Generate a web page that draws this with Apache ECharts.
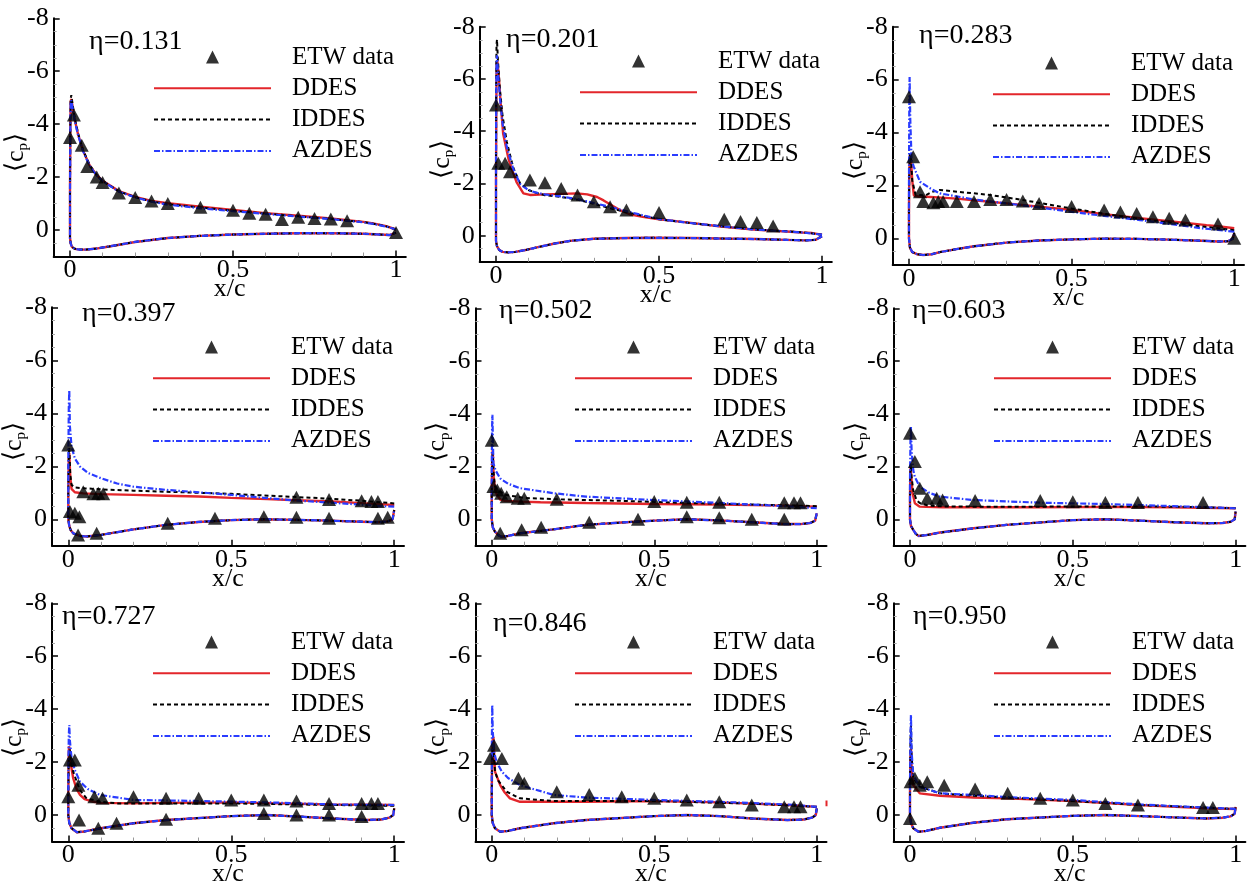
<!DOCTYPE html>
<html><head><meta charset="utf-8">
<script src="https://cdn.jsdelivr.net/npm/echarts@6/dist/echarts.min.js"></script>
<style>html,body{margin:0;padding:0;background:#fff}#c{width:1253px;height:881px}</style>
</head><body><div id="c"></div>
<script>
// ---------- tick labels / names ----------
const etaLabels = ['η=0.131','η=0.201','η=0.283','η=0.397','η=0.502','η=0.603','η=0.727','η=0.846','η=0.950'];
const seriesNames = ['ETW data','DDES','IDDES','AZDES'];
const xMajorTicks = [0, 0.5, 1];
const xMinorTicks = [0.1,0.2,0.3,0.4,0.6,0.7,0.8,0.9];
const yTickLabels = [-8,-6,-4,-2,0];

// ---------- panel 1 (eta 0.131) ----------
const p1_etw = [[0.0,-3.5],[0.012,-4.35],[0.036,-3.2],[0.053,-2.4],[0.082,-2.0],[0.1,-1.8],[0.15,-1.4],[0.2,-1.23],[0.25,-1.1],[0.3,-1.0],[0.4,-0.86],[0.5,-0.75],[0.55,-0.63],[0.6,-0.6],[0.65,-0.4],[0.7,-0.48],[0.75,-0.44],[0.8,-0.42],[0.85,-0.35],[1.0,0.09]];
const p1_ddesUp = [[1.0,-0.02],[0.97,-0.15],[0.93,-0.25],[0.9,-0.31],[0.8,-0.44],[0.7,-0.54],[0.6,-0.64],[0.5,-0.76],[0.4,-0.88],[0.3,-1.01],[0.25,-1.1],[0.2,-1.25],[0.15,-1.47],[0.1,-1.86],[0.08,-2.1],[0.06,-2.45],[0.04,-3.0],[0.025,-3.6],[0.015,-4.15],[0.008,-4.65],[0.004,-4.95],[0.002,-4.85],[0.001,-3.8],[0.0,-1.5]];
const p1_iddesUp = [[1.0,-0.02],[0.97,-0.14],[0.93,-0.24],[0.9,-0.3],[0.8,-0.42],[0.7,-0.52],[0.6,-0.62],[0.5,-0.73],[0.4,-0.85],[0.3,-0.98],[0.25,-1.08],[0.2,-1.24],[0.15,-1.46],[0.1,-1.86],[0.08,-2.1],[0.06,-2.47],[0.04,-3.02],[0.025,-3.65],[0.015,-4.2],[0.008,-4.75],[0.004,-5.1],[0.002,-4.95],[0.001,-3.8],[0.0,-1.5]];
const p1_azdesUp = [[1.0,-0.02],[0.97,-0.13],[0.93,-0.23],[0.9,-0.29],[0.8,-0.41],[0.7,-0.51],[0.6,-0.61],[0.5,-0.71],[0.4,-0.82],[0.3,-0.96],[0.25,-1.07],[0.2,-1.23],[0.15,-1.45],[0.1,-1.84],[0.08,-2.08],[0.06,-2.43],[0.04,-2.98],[0.025,-3.58],[0.015,-4.1],[0.008,-4.6],[0.004,-4.9],[0.002,-4.8],[0.001,-3.7],[0.0,-1.5]];
const p1_lower = [[0.0,-0.2],[0.0,0.3],[0.002,0.5],[0.006,0.64],[0.015,0.71],[0.03,0.74],[0.05,0.74],[0.08,0.7],[0.12,0.62],[0.2,0.45],[0.3,0.3],[0.4,0.22],[0.5,0.17],[0.6,0.14],[0.7,0.12],[0.8,0.12],[0.9,0.14],[0.95,0.17],[0.98,0.19],[1.0,0.1]];

// ---------- panel 2 (eta 0.201) ----------
const p2_etw = [[0.0,-5.0],[0.007,-2.77],[0.028,-2.77],[0.043,-2.45],[0.104,-2.13],[0.15,-2.03],[0.2,-1.81],[0.25,-1.56],[0.3,-1.3],[0.35,-1.11],[0.4,-0.98],[0.5,-0.89],[0.7,-0.63],[0.75,-0.54],[0.8,-0.5],[0.85,-0.37]];
const p2_ddesUp = [[1.0,-0.04],[0.97,-0.1],[0.94,-0.12],[0.89,-0.16],[0.79,-0.23],[0.69,-0.35],[0.585,-0.51],[0.5,-0.63],[0.45,-0.72],[0.41,-0.82],[0.38,-0.98],[0.36,-1.13],[0.33,-1.35],[0.31,-1.48],[0.28,-1.58],[0.248,-1.62],[0.2,-1.6],[0.15,-1.58],[0.104,-1.56],[0.084,-1.62],[0.063,-2.05],[0.05,-2.5],[0.038,-2.95],[0.022,-3.9],[0.013,-5.3],[0.008,-6.2],[0.004,-6.7],[0.002,-6.6],[0.001,-5.0],[0.0,-2.0]];
const p2_iddesUp = [[1.0,-0.04],[0.94,-0.13],[0.89,-0.17],[0.79,-0.24],[0.69,-0.36],[0.585,-0.5],[0.5,-0.63],[0.45,-0.76],[0.4,-0.9],[0.35,-1.05],[0.3,-1.22],[0.25,-1.38],[0.2,-1.48],[0.15,-1.55],[0.12,-1.65],[0.1,-1.75],[0.074,-2.0],[0.053,-2.6],[0.033,-3.6],[0.02,-4.6],[0.012,-5.6],[0.006,-6.7],[0.003,-7.5],[0.0015,-7.3],[0.0005,-5.5],[0.0,-2.0]];
const p2_azdesUp = [[1.0,-0.04],[0.94,-0.12],[0.89,-0.16],[0.79,-0.24],[0.69,-0.36],[0.585,-0.5],[0.5,-0.64],[0.45,-0.78],[0.4,-0.94],[0.35,-1.1],[0.3,-1.25],[0.25,-1.4],[0.2,-1.5],[0.15,-1.58],[0.12,-1.66],[0.1,-1.74],[0.074,-1.98],[0.053,-2.55],[0.033,-3.4],[0.02,-4.3],[0.012,-5.3],[0.006,-6.3],[0.003,-6.9],[0.0015,-6.6],[0.0005,-5.0],[0.0,-2.0]];
const p2_lower = [[0.0,-1.0],[0.0,0.2],[0.003,0.4],[0.01,0.55],[0.02,0.62],[0.038,0.64],[0.06,0.62],[0.09,0.55],[0.125,0.45],[0.18,0.3],[0.227,0.2],[0.3,0.12],[0.4,0.09],[0.48,0.08],[0.6,0.09],[0.69,0.11],[0.8,0.13],[0.89,0.16],[0.95,0.18],[0.98,0.16],[1.0,0.02]];

// ---------- panel 3 (eta 0.283) ----------
const p3_etw = [[0.0,-5.35],[0.013,-3.08],[0.034,-1.76],[0.044,-1.39],[0.075,-1.35],[0.09,-1.39],[0.105,-1.39],[0.147,-1.39],[0.2,-1.39],[0.25,-1.47],[0.3,-1.47],[0.35,-1.41],[0.4,-1.32],[0.5,-1.2],[0.6,-1.07],[0.65,-1.0],[0.7,-0.94],[0.75,-0.82],[0.8,-0.76],[0.85,-0.69],[0.95,-0.54],[1.0,0.0]];
const p3_ddesUp = [[1.0,-0.38],[0.95,-0.46],[0.915,-0.5],[0.8,-0.65],[0.71,-0.76],[0.6,-0.91],[0.5,-1.07],[0.4,-1.2],[0.3,-1.32],[0.2,-1.44],[0.147,-1.5],[0.1,-1.54],[0.054,-1.57],[0.03,-1.58],[0.015,-1.62],[0.01,-2.2],[0.006,-3.0],[0.003,-3.15],[0.001,-2.5],[0.0,-1.0]];
const p3_iddesUp = [[1.0,-0.31],[0.95,-0.38],[0.9,-0.45],[0.8,-0.6],[0.71,-0.73],[0.6,-0.93],[0.5,-1.13],[0.4,-1.34],[0.35,-1.45],[0.25,-1.64],[0.15,-1.76],[0.095,-1.83],[0.07,-1.75],[0.05,-1.62],[0.02,-1.65],[0.01,-2.2],[0.006,-3.0],[0.003,-3.2],[0.001,-2.5],[0.0,-1.0]];
const p3_azdesUp = [[1.0,-0.25],[0.95,-0.32],[0.9,-0.38],[0.8,-0.55],[0.71,-0.69],[0.6,-0.85],[0.5,-1.0],[0.4,-1.17],[0.3,-1.32],[0.2,-1.47],[0.15,-1.58],[0.095,-1.7],[0.065,-1.89],[0.034,-2.14],[0.015,-2.7],[0.008,-2.96],[0.004,-4.5],[0.002,-6.1],[0.001,-5.0],[0.0,-2.0]];
const p3_lower = [[0.0,-0.5],[0.0,0.0],[0.003,0.35],[0.01,0.52],[0.025,0.6],[0.044,0.63],[0.07,0.6],[0.095,0.52],[0.15,0.4],[0.2,0.3],[0.3,0.16],[0.4,0.08],[0.5,0.04],[0.6,0.01],[0.7,0.02],[0.8,0.05],[0.9,0.09],[0.95,0.12],[0.98,0.11],[0.995,0.02],[1.0,-0.2]];

// ---------- panel 4 (eta 0.397) ----------
const p4_etw = [[0.0,-2.8],[0.005,-0.29],[0.02,-0.23],[0.034,-0.1],[0.03,0.59],[0.046,-1.04],[0.077,-0.96],[0.087,0.53],[0.092,-0.98],[0.107,-0.96],[0.305,0.15],[0.45,-0.04],[0.6,-0.1],[0.7,-0.83],[0.7,-0.08],[0.8,-0.75],[0.8,-0.04],[0.9,-0.7],[0.93,-0.67],[0.95,-0.67],[0.95,-0.04],[0.98,-0.08]];
const p4_ddesUp = [[1.0,-0.54],[0.9,-0.61],[0.81,-0.67],[0.7,-0.72],[0.61,-0.76],[0.5,-0.81],[0.4,-0.86],[0.3,-0.89],[0.2,-0.92],[0.1,-0.95],[0.046,-0.98],[0.02,-1.02],[0.01,-1.15],[0.006,-1.6],[0.003,-2.5],[0.0015,-2.3],[0.0,-1.0]];
const p4_iddesUp = [[1.0,-0.6],[0.9,-0.7],[0.8,-0.78],[0.7,-0.84],[0.6,-0.9],[0.5,-0.96],[0.4,-1.0],[0.3,-1.04],[0.2,-1.08],[0.1,-1.13],[0.05,-1.17],[0.02,-1.2],[0.01,-1.3],[0.006,-1.7],[0.003,-2.7],[0.0015,-2.5],[0.0,-1.0]];
const p4_azdesUp = [[1.0,-0.48],[0.95,-0.5],[0.915,-0.54],[0.8,-0.63],[0.71,-0.7],[0.6,-0.81],[0.5,-0.92],[0.4,-1.02],[0.3,-1.11],[0.2,-1.23],[0.15,-1.35],[0.1,-1.55],[0.06,-1.75],[0.036,-1.99],[0.02,-2.3],[0.01,-2.74],[0.005,-3.5],[0.003,-4.88],[0.0015,-4.2],[0.0,-2.0]];
const p4_lower = [[0.0,-0.5],[0.0,0.0],[0.003,0.25],[0.007,0.4],[0.015,0.53],[0.036,0.63],[0.056,0.65],[0.1,0.59],[0.2,0.38],[0.3,0.21],[0.4,0.1],[0.5,0.03],[0.6,0.0],[0.7,0.02],[0.8,0.05],[0.9,0.09],[0.95,0.11],[0.98,0.08],[0.995,0.0],[1.0,-0.35]];

// ---------- panel 5 (eta 0.502) ----------
const p5_etw = [[0.0,-3.0],[0.005,-1.24],[0.017,-1.11],[0.029,-0.99],[0.046,-0.86],[0.08,-0.8],[0.1,-0.8],[0.2,-0.76],[0.5,-0.68],[0.6,-0.65],[0.7,-0.65],[0.9,-0.63],[0.93,-0.63],[0.95,-0.63],[0.026,0.53],[0.092,0.4],[0.152,0.3],[0.3,0.11],[0.45,0.0],[0.6,-0.1],[0.7,-0.06],[0.8,0.0],[0.9,0.0]];
const p5_ddesUp = [[1.0,-0.48],[0.9,-0.52],[0.8,-0.54],[0.7,-0.56],[0.5,-0.58],[0.29,-0.62],[0.15,-0.65],[0.087,-0.67],[0.04,-0.7],[0.026,-0.75],[0.015,-0.95],[0.01,-1.15],[0.006,-1.6],[0.003,-2.63],[0.0015,-2.3],[0.0,-1.0]];
const p5_iddesUp = [[1.0,-0.5],[0.9,-0.53],[0.8,-0.56],[0.6,-0.62],[0.4,-0.7],[0.2,-0.76],[0.1,-0.81],[0.046,-0.92],[0.025,-1.05],[0.01,-1.24],[0.006,-1.7],[0.003,-2.5],[0.0015,-2.3],[0.0,-1.0]];
const p5_azdesUp = [[1.0,-0.42],[0.9,-0.5],[0.8,-0.56],[0.7,-0.62],[0.5,-0.73],[0.29,-0.86],[0.19,-0.99],[0.087,-1.18],[0.05,-1.35],[0.026,-1.55],[0.012,-1.85],[0.005,-2.12],[0.002,-3.96],[0.001,-3.5],[0.0,-2.0]];
const p5_lower = [[0.0,-0.5],[0.0,0.0],[0.003,0.3],[0.01,0.47],[0.02,0.6],[0.03,0.66],[0.05,0.63],[0.087,0.53],[0.19,0.38],[0.29,0.21],[0.4,0.12],[0.5,0.05],[0.6,0.0],[0.7,0.04],[0.8,0.11],[0.9,0.18],[0.95,0.18],[0.98,0.14],[0.995,0.05],[1.0,-0.23]];

// ---------- panel 6 (eta 0.603) ----------
const p6_etw = [[0.0,-3.26],[0.015,-2.19],[0.03,-1.18],[0.053,-0.8],[0.082,-0.8],[0.1,-0.73],[0.2,-0.71],[0.4,-0.71],[0.5,-0.67],[0.6,-0.64],[0.7,-0.64],[0.9,-0.64]];
const p6_ddesUp = [[1.0,-0.42],[0.9,-0.44],[0.8,-0.46],[0.6,-0.47],[0.4,-0.46],[0.2,-0.46],[0.1,-0.46],[0.05,-0.47],[0.03,-0.48],[0.015,-0.61],[0.008,-1.0],[0.004,-1.6],[0.002,-2.0],[0.001,-1.7],[0.0,-0.8]];
const p6_iddesUp = [[1.0,-0.42],[0.9,-0.46],[0.8,-0.48],[0.6,-0.49],[0.4,-0.48],[0.2,-0.48],[0.1,-0.49],[0.056,-0.52],[0.03,-0.62],[0.02,-0.73],[0.01,-1.1],[0.005,-1.6],[0.002,-2.1],[0.001,-1.7],[0.0,-0.8]];
const p6_azdesUp = [[1.0,-0.42],[0.9,-0.46],[0.81,-0.5],[0.6,-0.58],[0.4,-0.63],[0.195,-0.73],[0.092,-0.86],[0.06,-1.0],[0.03,-1.24],[0.015,-1.6],[0.01,-1.87],[0.005,-2.6],[0.003,-3.5],[0.0015,-3.0],[0.0,-1.5]];
const p6_lower = [[0.0,-0.5],[0.0,0.0],[0.003,0.25],[0.01,0.4],[0.018,0.55],[0.026,0.63],[0.05,0.6],[0.092,0.5],[0.195,0.34],[0.297,0.21],[0.5,0.03],[0.6,0.0],[0.706,0.05],[0.81,0.11],[0.91,0.15],[0.96,0.14],[0.985,0.09],[0.997,0.0],[1.0,-0.29]];

// ---------- panel 7 (eta 0.727) ----------
const p7_etw = [[0.0,-0.69],[0.005,-2.08],[0.02,-2.08],[0.031,-1.13],[0.033,0.19],[0.08,-0.69],[0.092,0.5],[0.105,-0.63],[0.148,0.31],[0.2,-0.69],[0.3,-0.63],[0.3,0.16],[0.4,-0.63],[0.5,-0.57],[0.6,-0.57],[0.6,-0.06],[0.7,-0.53],[0.7,0.0],[0.8,-0.44],[0.8,0.0],[0.9,-0.44],[0.9,0.06],[0.93,-0.44],[0.95,-0.44]];
const p7_ddesUp = [[1.0,-0.38],[0.81,-0.4],[0.5,-0.48],[0.3,-0.46],[0.2,-0.44],[0.1,-0.46],[0.077,-0.5],[0.05,-0.6],[0.036,-0.76],[0.025,-1.0],[0.015,-1.39],[0.008,-1.9],[0.004,-2.5],[0.002,-2.6],[0.001,-2.0],[0.0,-0.8]];
const p7_iddesUp = [[1.0,-0.35],[0.81,-0.38],[0.5,-0.44],[0.3,-0.44],[0.15,-0.44],[0.1,-0.5],[0.056,-0.63],[0.035,-0.95],[0.015,-1.64],[0.008,-2.1],[0.004,-2.5],[0.002,-2.4],[0.001,-1.8],[0.0,-0.8]];
const p7_azdesUp = [[1.0,-0.38],[0.81,-0.4],[0.61,-0.48],[0.4,-0.53],[0.2,-0.57],[0.097,-0.76],[0.06,-0.98],[0.036,-1.26],[0.02,-1.7],[0.01,-2.14],[0.005,-2.8],[0.003,-3.4],[0.0015,-3.0],[0.0,-1.5]];
const p7_lower = [[0.0,-0.5],[0.0,0.0],[0.003,0.3],[0.01,0.5],[0.026,0.65],[0.05,0.62],[0.1,0.5],[0.2,0.31],[0.3,0.19],[0.5,0.04],[0.61,0.0],[0.71,0.06],[0.81,0.13],[0.915,0.19],[0.96,0.17],[0.985,0.1],[0.997,0.0],[1.0,-0.25]];

// ---------- panel 8 (eta 0.846) ----------
const p8_etw = [[-0.005,-2.14],[0.007,-2.64],[0.031,-2.14],[0.082,-1.39],[0.1,-1.2],[0.2,-0.88],[0.3,-0.78],[0.4,-0.69],[0.5,-0.63],[0.6,-0.57],[0.7,-0.5],[0.8,-0.38],[0.9,-0.31],[0.93,-0.31],[0.95,-0.31]];
const p8_ddesUp = [[1.0,-0.31],[0.91,-0.38],[0.7,-0.48],[0.5,-0.53],[0.29,-0.5],[0.15,-0.5],[0.087,-0.5],[0.056,-0.63],[0.04,-0.85],[0.026,-1.13],[0.01,-1.64],[0.005,-2.96],[0.0025,-2.8],[0.001,-2.0],[0.0,-0.8]];
const p8_iddesUp = [[1.0,-0.31],[0.8,-0.43],[0.5,-0.53],[0.19,-0.53],[0.087,-0.63],[0.046,-0.88],[0.02,-1.3],[0.01,-1.64],[0.005,-2.6],[0.0025,-2.5],[0.001,-1.8],[0.0,-0.8]];
const p8_azdesUp = [[1.0,-0.31],[0.91,-0.4],[0.7,-0.5],[0.5,-0.57],[0.29,-0.66],[0.19,-0.76],[0.087,-1.13],[0.05,-1.4],[0.031,-1.64],[0.015,-2.0],[0.007,-2.39],[0.003,-3.2],[0.0015,-4.16],[0.0005,-3.0],[0.0,-1.5]];
const p8_lower = [[0.0,-0.5],[0.0,0.0],[0.003,0.3],[0.01,0.5],[0.026,0.63],[0.05,0.6],[0.087,0.5],[0.19,0.31],[0.29,0.19],[0.5,0.04],[0.6,0.0],[0.7,0.04],[0.8,0.13],[0.91,0.19],[0.96,0.17],[0.985,0.1],[0.997,0.0],[1.0,-0.25]];
const p8_ddesMark = [[1.03,-0.33],[1.03,-0.55]];

// ---------- panel 9 (eta 0.950) ----------
const p9_etw = [[0.0,0.13],[0.002,-1.26],[0.015,-1.39],[0.03,-1.13],[0.053,-1.26],[0.105,-1.13],[0.2,-0.98],[0.3,-0.82],[0.4,-0.63],[0.5,-0.57],[0.6,-0.44],[0.7,-0.38],[0.9,-0.28],[0.93,-0.28]];
const p9_ddesUp = [[1.0,-0.23],[0.91,-0.25],[0.706,-0.38],[0.5,-0.53],[0.297,-0.63],[0.195,-0.66],[0.092,-0.73],[0.03,-0.82],[0.01,-1.13],[0.005,-1.8],[0.003,-2.5],[0.0015,-2.2],[0.0,-0.8]];
const p9_iddesUp = [[1.0,-0.23],[0.91,-0.28],[0.706,-0.38],[0.5,-0.53],[0.297,-0.66],[0.195,-0.73],[0.092,-0.82],[0.03,-1.07],[0.01,-1.39],[0.005,-2.2],[0.003,-3.4],[0.0015,-2.8],[0.0,-1.0]];
const p9_azdesUp = [[1.0,-0.23],[0.91,-0.28],[0.706,-0.4],[0.5,-0.57],[0.297,-0.68],[0.195,-0.76],[0.092,-0.82],[0.03,-1.07],[0.01,-1.51],[0.005,-2.4],[0.003,-3.78],[0.0015,-3.0],[0.0,-1.2]];
const p9_lower = [[0.0,-0.5],[0.0,0.0],[0.003,0.3],[0.01,0.5],[0.026,0.63],[0.05,0.6],[0.092,0.48],[0.195,0.29],[0.297,0.16],[0.5,0.03],[0.6,0.0],[0.706,0.04],[0.81,0.09],[0.91,0.13],[0.96,0.1],[0.985,0.05],[0.997,-0.05],[1.0,-0.31]];

// ---------- assemble ----------
const panels = [
  [p1_etw, p1_ddesUp, p1_iddesUp, p1_azdesUp, p1_lower],
  [p2_etw, p2_ddesUp, p2_iddesUp, p2_azdesUp, p2_lower],
  [p3_etw, p3_ddesUp, p3_iddesUp, p3_azdesUp, p3_lower],
  [p4_etw, p4_ddesUp, p4_iddesUp, p4_azdesUp, p4_lower],
  [p5_etw, p5_ddesUp, p5_iddesUp, p5_azdesUp, p5_lower],
  [p6_etw, p6_ddesUp, p6_iddesUp, p6_azdesUp, p6_lower],
  [p7_etw, p7_ddesUp, p7_iddesUp, p7_azdesUp, p7_lower],
  [p8_etw, p8_ddesUp, p8_iddesUp, p8_azdesUp, p8_lower],
  [p9_etw, p9_ddesUp, p9_iddesUp, p9_azdesUp, p9_lower]
];

// layout (pixels): grid [left, top, width, height], legend [left, top], title [left, top]
const gridBoxes = [
  [53.7,18.3,352.1,238.2],[479.7,26.7,352.1,235.1],[892.7,26.7,351.3,238.1],
  [52,307.3,352,238.5],[475.5,308.3,351,237.4],[893.7,308.3,351.7,237.4],
  [52,603.3,352,238.2],[475.5,603.3,351,238.2],[893.7,603.3,351.7,238.2]
];
const legendBoxes = [[153,44.5],[579,48.5],[992,50.5],[152,334.5],[574,334.5],[993,334.5],[152,629.5],[574,629.5],[993,629.5]];
const titleBoxes = [[89,28],[506,26],[919,22],[82,300],[499,297],[912,297],[62,603],[493,610],[913,603]];

const FONT = '"Liberation Serif","Times New Roman",serif';
const RED = '#e3262b', BLUE = '#2a3cff', BLACK = '#000';
const TRI = 'path://M0,13L6.5,0L13,13Z';
const HIDE = {opacity:0};

const option = {animation:false, backgroundColor:'#fff', grid:[], xAxis:[], yAxis:[], series:[], legend:[], title:[]};

panels.forEach((p, i) => {
  const g = gridBoxes[i];
  option.grid.push({left:g[0], top:g[1], width:g[2], height:g[3], outerBoundsMode:'none', containLabel:false});
  option.xAxis.push({
    gridIndex:i, type:'value', min:-0.05, max:1.03,
    axisLine:{onZero:false, lineStyle:{color:BLACK, width:2}},
    axisTick:{inside:true, length:6, customValues:xMajorTicks, lineStyle:{color:BLACK, width:1.5}},
    axisLabel:{customValues:xMajorTicks, fontFamily:FONT, fontSize:26, color:BLACK, margin:1},
    splitLine:{show:false},
    name:'x/c', nameLocation:'middle', nameGap:20, nameMoveOverlap:false,
    nameTextStyle:{fontFamily:FONT, fontSize:26, color:BLACK}
  });
  option.xAxis.push({
    gridIndex:i, type:'value', min:-0.05, max:1.03, position:'bottom',
    axisLine:{show:false, onZero:false},
    axisTick:{inside:true, length:4, customValues:xMinorTicks, lineStyle:{color:'#999', width:1}},
    axisLabel:{show:false}, splitLine:{show:false}
  });
  option.yAxis.push({
    gridIndex:i, type:'value', inverse:true, min:-8, max:1, interval:2,
    axisLine:{show:true, onZero:false, lineStyle:{color:BLACK, width:2}},
    axisTick:{show:true, inside:true, length:6, lineStyle:{color:BLACK, width:1.5}},
    minorTick:{show:true, splitNumber:4, length:3, lineStyle:{color:'#aaa', width:1}},
    axisLabel:{fontFamily:FONT, fontSize:26, color:BLACK, margin:5,
      formatter: v => (yTickLabels.indexOf(v) >= 0 ? String(v) : '')},
    splitLine:{show:false},
    name:'{a|⟨c}{s|p}{a|⟩}', nameLocation:'middle', nameRotate:90, nameGap:23, nameMoveOverlap:false,
    nameTextStyle:{color:BLACK, padding:[0,30,0,0],
      rich:{a:{fontFamily:FONT, fontSize:26, lineHeight:30, color:BLACK},
            s:{fontFamily:FONT, fontSize:15, lineHeight:15, verticalAlign:'bottom', color:BLACK}}}
  });
  const xi = 2*i;
  option.series.push({name:'DDES', type:'line', xAxisIndex:xi, yAxisIndex:i, data:p[1].concat(p[4]),
    symbol:'none', silent:true, lineStyle:{color:RED, width:2.4}, itemStyle:{color:RED}, z:2});
  option.series.push({name:'IDDES', type:'line', xAxisIndex:xi, yAxisIndex:i, data:p[2].concat(p[4]),
    symbol:'none', silent:true, lineStyle:{color:BLACK, width:2, type:[4,3]}, itemStyle:{color:BLACK}, z:3});
  option.series.push({name:'AZDES', type:'line', xAxisIndex:xi, yAxisIndex:i, data:p[3].concat(p[4]),
    symbol:'none', silent:true, lineStyle:{color:BLUE, width:2.2, type:[6,2,1.5,2]}, itemStyle:{color:BLUE}, z:4});
  option.series.push({name:'ETW data', type:'scatter', xAxisIndex:xi, yAxisIndex:i, data:p[0],
    symbol:'triangle', symbolSize:[14,13], silent:true, itemStyle:{color:BLACK}, z:6});
  if (i === 7) {
    option.series.push({type:'line', xAxisIndex:xi, yAxisIndex:i, data:p8_ddesMark, symbol:'none', silent:true,
      lineStyle:{color:RED, width:2}, z:2});
  }
  const l = legendBoxes[i];
  option.legend.push({
    orient:'vertical', left:l[0], top:l[1], itemWidth:117, itemHeight:13, itemGap:6.3,
    selectedMode:false, padding:0, symbolKeepAspect:true,
    data:[{name:seriesNames[0], icon:TRI, itemStyle:{color:BLACK}},
          {name:seriesNames[1], itemStyle:HIDE},
          {name:seriesNames[2], itemStyle:HIDE},
          {name:seriesNames[3], itemStyle:HIDE}],
    textStyle:{fontFamily:FONT, fontSize:25, lineHeight:25, color:BLACK, padding:[0,0,0,16]}
  });
  const t = titleBoxes[i];
  option.title.push({text:etaLabels[i], left:t[0], top:t[1], padding:0,
    textStyle:{fontFamily:FONT, fontSize:28, fontWeight:'normal', color:BLACK}});
});

const chart = echarts.init(document.getElementById('c'), null, {renderer:'canvas'});
chart.setOption(option);
</script>
</body></html>
